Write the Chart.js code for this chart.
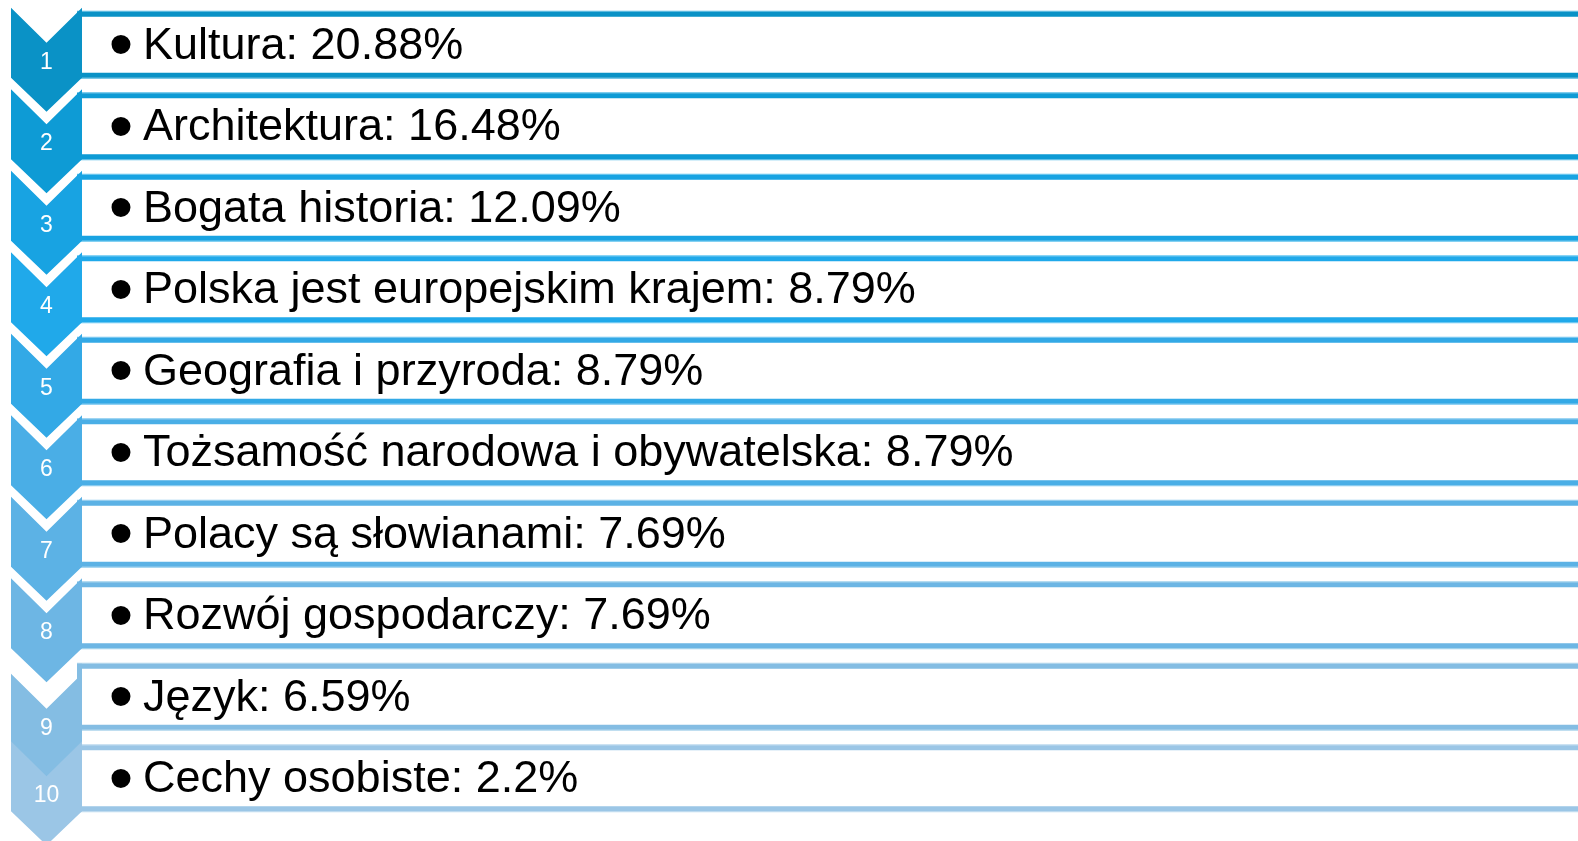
<!DOCTYPE html>
<html>
<head>
<meta charset="utf-8">
<script src="https://cdn.jsdelivr.net/npm/chart.js@4.4.0/dist/chart.umd.min.js"></script>
<style>
  html, body { margin: 0; padding: 0; background: #fff; overflow: hidden; }
  #wrap { width: 1578px; height: 841px; }
</style>
</head>
<body>
<div id="wrap"><canvas id="chevronChart"></canvas></div>
<script>
// ==================== DATA ====================
const categories = [
    'Kultura', 'Architektura', 'Bogata historia', 'Polska jest europejskim krajem',
    'Geografia i przyroda', 'Tożsamość narodowa i obywatelska', 'Polacy są słowianami',
    'Rozwój gospodarczy', 'Język', 'Cechy osobiste'
];
const shares = [20.88, 16.48, 12.09, 8.79, 8.79, 8.79, 7.69, 7.69, 6.59, 2.2];
const stepLabels = ['1', '2', '3', '4', '5', '6', '7', '8', '9', '10'];
const rowColors = [
    '#0a92c6', '#0e9bd5', '#18a3e2', '#20a9ea', '#33a9e6',
    '#4aaee6', '#5cb2e5', '#6db6e4', '#84bde3', '#9bc6e6'
];
const rowEdgeColors = [
    '#4fb6e0', '#55bde8', '#5cc2ee', '#62c6f2', '#6fc4ef',
    '#80c8ee', '#8ecbed', '#9ccfec', '#acd4ec', '#bcd9ee'
];

// ==================== CHEVRON LIST PLUGIN ====================
const chevronListPlugin = {
    id: 'chevronList',
    afterDatasetsDraw(chart) {
        const ctx = chart.ctx;
        const yScale = chart.scales.y;
        const W = chart.width;
        const left = 11, right = 82, mid = 46.5;

        ctx.save();
        // boxes + texts
        categories.forEach((cat, i) => {
            const c = yScale.getPixelForValue(i);
            ctx.fillStyle = rowEdgeColors[i];
            ctx.fillRect(77, c - 34, W, 1);
            ctx.fillRect(77, c + 33, W, 1);
            ctx.fillStyle = rowColors[i];
            ctx.fillRect(77, c - 33, W, 5);
            ctx.fillRect(77, c + 28, W, 5);
            ctx.fillRect(77, c - 33, 5, 66);

            ctx.fillStyle = '#000';
            ctx.textAlign = 'center';
            ctx.textBaseline = 'middle';
            ctx.font = '70px "Liberation Sans"';
            ctx.fillText('•', 121, c + 4);
            ctx.textAlign = 'left';
            ctx.textBaseline = 'alphabetic';
            ctx.font = '45px "Liberation Sans"';
            ctx.fillText(cat + ': ' + shares[i] + '%', 143, c + 14);
        });

        // chevrons
        categories.forEach((cat, i) => {
            const c = yScale.getPixelForValue(i);
            const shift = i === 8 ? 14 : 0;
            const top = c - 37 + shift;
            ctx.fillStyle = rowColors[i];
            ctx.beginPath();
            ctx.moveTo(left, top);
            ctx.lineTo(mid, top + 35);
            ctx.lineTo(right, top);
            ctx.lineTo(right, top + 70);
            ctx.lineTo(mid, top + 104);
            ctx.lineTo(left, top + 70);
            ctx.closePath();
            ctx.fill();

            ctx.fillStyle = '#fff';
            ctx.font = '23px "Liberation Sans"';
            ctx.textAlign = 'center';
            ctx.textBaseline = 'alphabetic';
            ctx.fillText(stepLabels[i], mid, c + 24 + shift);
        });
        ctx.restore();
    }
};

new Chart(document.getElementById('chevronChart').getContext('2d'), {
    type: 'bar',
    data: {
        labels: categories,
        datasets: [{
            label: 'Udział',
            data: shares,
            backgroundColor: 'rgba(0,0,0,0)',
            borderWidth: 0
        }]
    },
    options: {
        indexAxis: 'y',
        responsive: true,
        maintainAspectRatio: false,
        animation: false,
        layout: { padding: { top: 4, bottom: 22, left: 0, right: 0 } },
        scales: {
            x: { display: false, min: 0, max: 25 },
            y: { display: false, offset: true }
        },
        plugins: {
            legend: { display: false },
            tooltip: { enabled: false }
        }
    },
    plugins: [chevronListPlugin]
});
</script>
</body>
</html>
